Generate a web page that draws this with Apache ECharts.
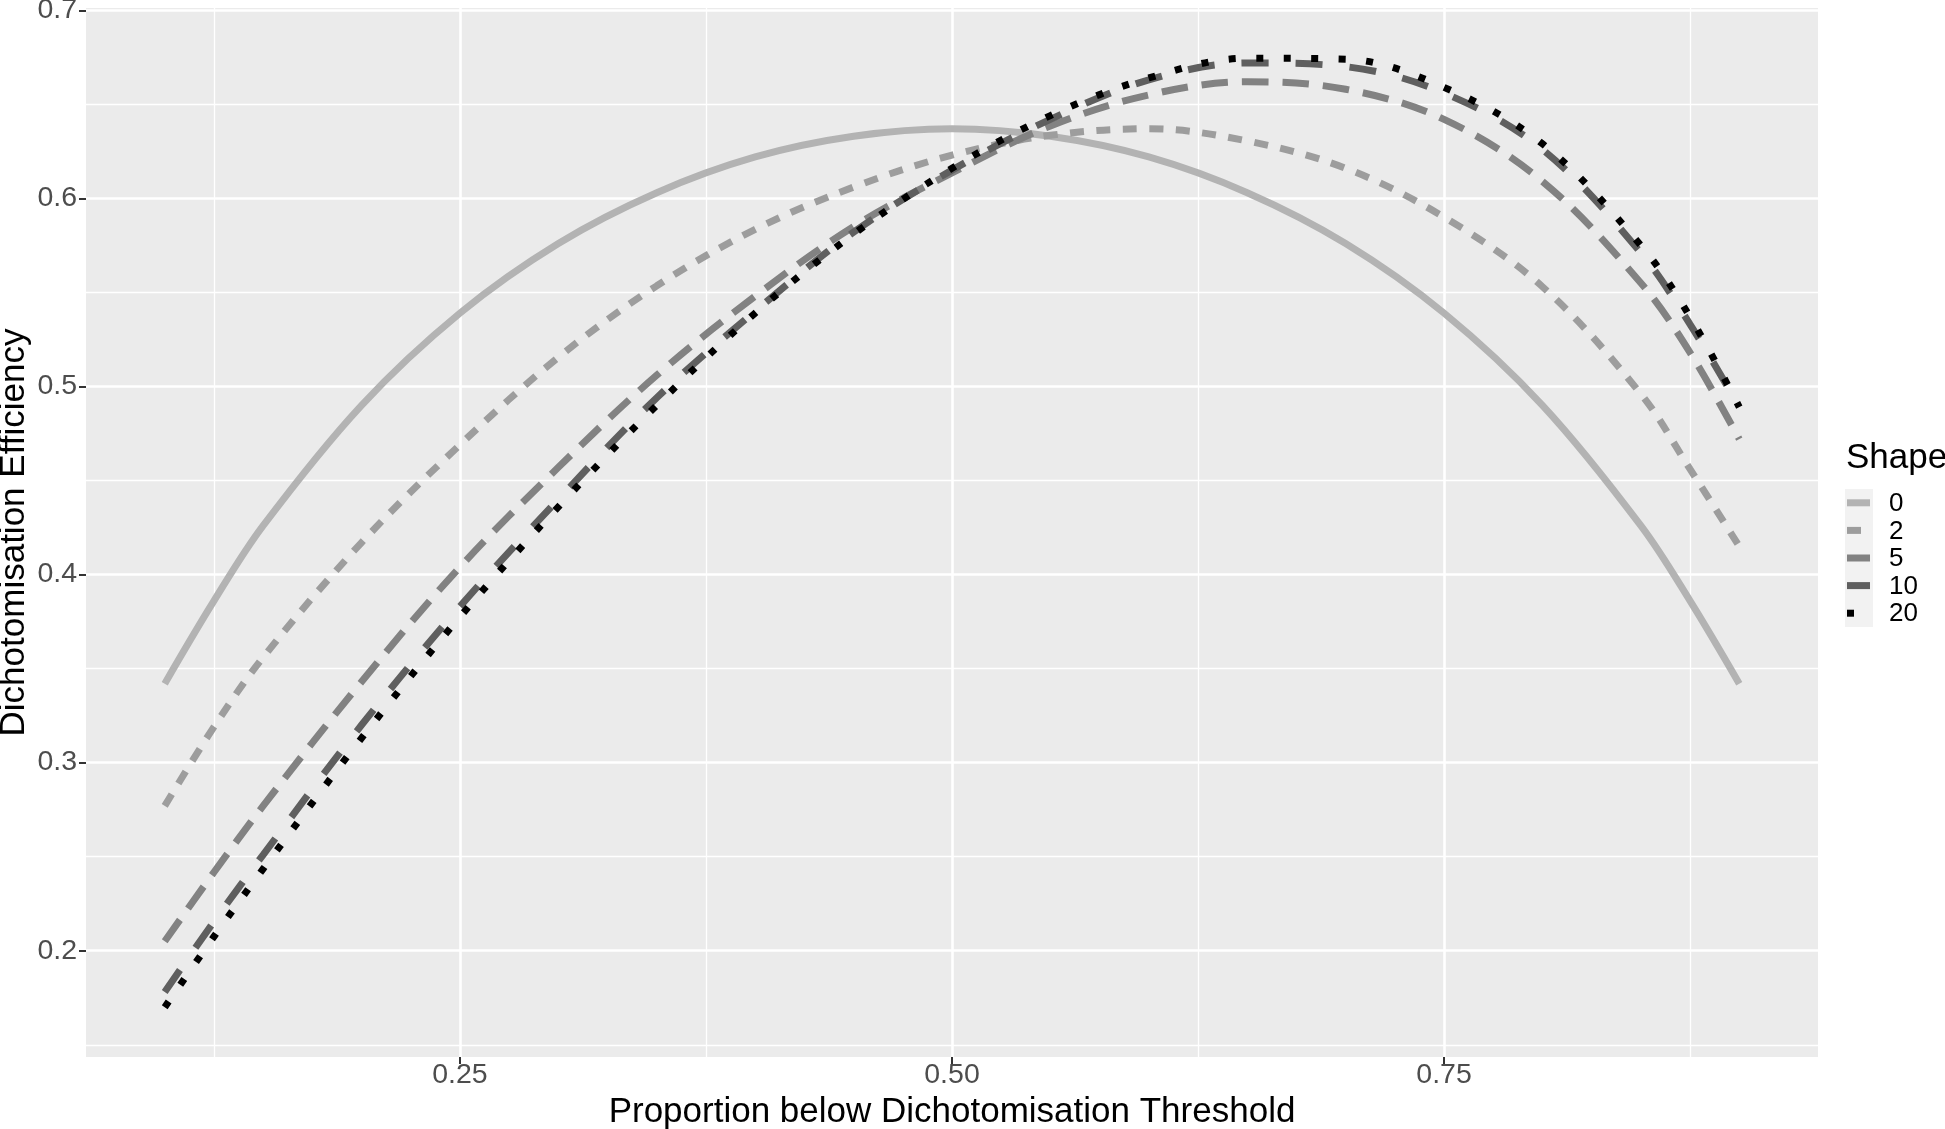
<!DOCTYPE html>
<html>
<head>
<meta charset="utf-8">
<script src="https://cdn.jsdelivr.net/npm/echarts@6/dist/echarts.min.js"></script>
<style>
html,body{margin:0;padding:0;background:#fff;}
#chart{width:1945px;height:1129px;}
</style>
</head>
<body>
<div id="chart"></div>
<script>
// ---- data ----
const proportion = [0.1, 0.125, 0.15, 0.2, 0.25, 0.3, 0.35, 0.4, 0.45, 0.5, 0.55, 0.6, 0.65, 0.7, 0.75, 0.8, 0.85, 0.875, 0.9];
const shape0  = [0.342, 0.386, 0.426, 0.490, 0.539, 0.576, 0.603, 0.622, 0.633, 0.637, 0.633, 0.622, 0.603, 0.576, 0.539, 0.490, 0.426, 0.386, 0.342];
const shape2  = [0.277, 0.319, 0.356, 0.417, 0.469, 0.5155, 0.5535, 0.5835, 0.606, 0.623, 0.6335, 0.637, 0.6305, 0.616, 0.590, 0.553, 0.496, 0.456, 0.415];
const shape5  = [0.205, 0.2417, 0.277, 0.343, 0.404, 0.457, 0.506, 0.548, 0.585, 0.6135, 0.6385, 0.655, 0.662, 0.658, 0.642, 0.609, 0.555, 0.518, 0.472];
const shape10 = [0.178, 0.2155, 0.251, 0.320, 0.383, 0.440, 0.494, 0.540, 0.582, 0.615, 0.642, 0.663, 0.672, 0.670, 0.656, 0.626, 0.571, 0.533, 0.489];
const shape20 = [0.170, 0.2075, 0.2435, 0.313, 0.3775, 0.436, 0.490, 0.539, 0.581, 0.616, 0.644, 0.664, 0.6745, 0.674, 0.659, 0.629, 0.575, 0.537, 0.489];
const shapeNames = ['0', '2', '5', '10', '20'];
const xTicks = [0.25, 0.5, 0.75];
const xMinorTicks = [0.125, 0.375, 0.625, 0.875];
const yTicks = [0.2, 0.3, 0.4, 0.5, 0.6, 0.7];
const yMinorTicks = [0.15, 0.25, 0.35, 0.45, 0.55, 0.65];
const xTitle = 'Proportion below Dichotomisation Threshold';
const yTitle = 'Dichotomisation Efficiency';
const legendTitle = 'Shape';

// ---- styling ----
const FONT = "'Liberation Sans', Arial, Helvetica, sans-serif";
const colors = ['#B3B3B3', '#9D9D9D', '#828282', '#5F5F5F', '#000000'];
const dashes = ['solid', [14, 12.5], [26.5, 14], [27, 27], [7, 20.5]];
const LW = 7;
const X_MIN = 0.06, X_MAX = 0.94, Y_MIN = 0.1435, Y_MAX = 0.7012;

const allSeries = [shape0, shape2, shape5, shape10, shape20];
const series = allSeries.map((vals, i) => ({
  name: shapeNames[i],
  type: 'line',
  data: proportion.map((p, j) => [p, vals[j]]),
  showSymbol: false,
  symbol: 'none',
  smooth: 0.35,
  xAxisIndex: 0,
  yAxisIndex: 0,
  lineStyle: { color: colors[i], width: LW, type: dashes[i], cap: 'butt' },
  itemStyle: { color: colors[i] },
  z: 3 + i
}));

// legend drawn by hand (ggplot style key boxes)
const legX = 1845, legTop = 489, rowH = 27.6;
const graphics = [
  { type: 'text', x: 1846, y: 458, style: { text: legendTitle, font: '35px ' + FONT, fill: '#000',
      align: 'left', verticalAlign: 'middle', textAlign: 'left', textVerticalAlign: 'middle' } },
  { type: 'rect', shape: { x: legX, y: legTop, width: 28, height: rowH * 5 }, style: { fill: '#F2F2F2' } }
];
shapeNames.forEach((nm, i) => {
  const cy = legTop + rowH * (i + 0.5);
  graphics.push({ type: 'line', shape: { x1: 1847, y1: cy, x2: 1870, y2: cy },
    style: { stroke: colors[i], lineWidth: LW, lineDash: dashes[i] === 'solid' ? null : dashes[i], lineCap: 'butt' } });
  graphics.push({ type: 'text', x: 1889, y: cy + 1, style: { text: nm, font: '26px ' + FONT, fill: '#000',
      align: 'left', verticalAlign: 'middle', textAlign: 'left', textVerticalAlign: 'middle' } });
});

const option = {
  animation: false,
  backgroundColor: '#ffffff',
  grid: { left: 86, top: 8, width: 1732, height: 1049, show: true, backgroundColor: '#EBEBEB', borderWidth: 0,
          containLabel: false, outerBoundsMode: 'none' },
  xAxis: [
    { type: 'value', min: X_MIN, max: X_MAX, position: 'bottom',
      axisLine: { show: false },
      axisTick: { show: true, length: 7, lineStyle: { color: '#333333', width: 2 }, customValues: xTicks },
      axisLabel: { customValues: xTicks, formatter: v => v.toFixed(2), color: '#4D4D4D', fontSize: 28.5, fontFamily: FONT, margin: 4 },
      splitLine: { show: true, lineStyle: { color: '#ffffff', width: 2.6 } },
      name: xTitle, nameLocation: 'middle', nameGap: 29,
      nameTextStyle: { color: '#000', fontSize: 35, fontFamily: FONT }
    },
    { type: 'value', min: X_MIN, max: X_MAX, position: 'bottom',
      axisLine: { show: false }, axisTick: { show: false, customValues: xMinorTicks },
      axisLabel: { show: false, customValues: xMinorTicks },
      splitLine: { show: true, lineStyle: { color: '#ffffff', width: 1.3 } }
    }
  ],
  yAxis: [
    { type: 'value', min: Y_MIN, max: Y_MAX, position: 'left',
      axisLine: { show: false },
      axisTick: { show: true, length: 7, lineStyle: { color: '#333333', width: 2 }, customValues: yTicks },
      axisLabel: { customValues: yTicks, formatter: v => v.toFixed(1), color: '#4D4D4D', fontSize: 28.5, fontFamily: FONT, margin: 9 },
      splitLine: { show: true, lineStyle: { color: '#ffffff', width: 2.6 } },
      name: yTitle, nameLocation: 'middle', nameGap: 54, nameRotate: 90, nameMoveOverlap: false,
      nameTextStyle: { color: '#000', fontSize: 35, fontFamily: FONT }
    },
    { type: 'value', min: Y_MIN, max: Y_MAX, position: 'left',
      axisLine: { show: false }, axisTick: { show: false, customValues: yMinorTicks },
      axisLabel: { show: false, customValues: yMinorTicks },
      splitLine: { show: true, lineStyle: { color: '#ffffff', width: 1.3 } }
    }
  ],
  series: series,
  graphic: graphics
};

const chart = echarts.init(document.getElementById('chart'), null, { renderer: 'canvas', width: 1945, height: 1129 });
chart.setOption(option);
</script>
</body>
</html>
